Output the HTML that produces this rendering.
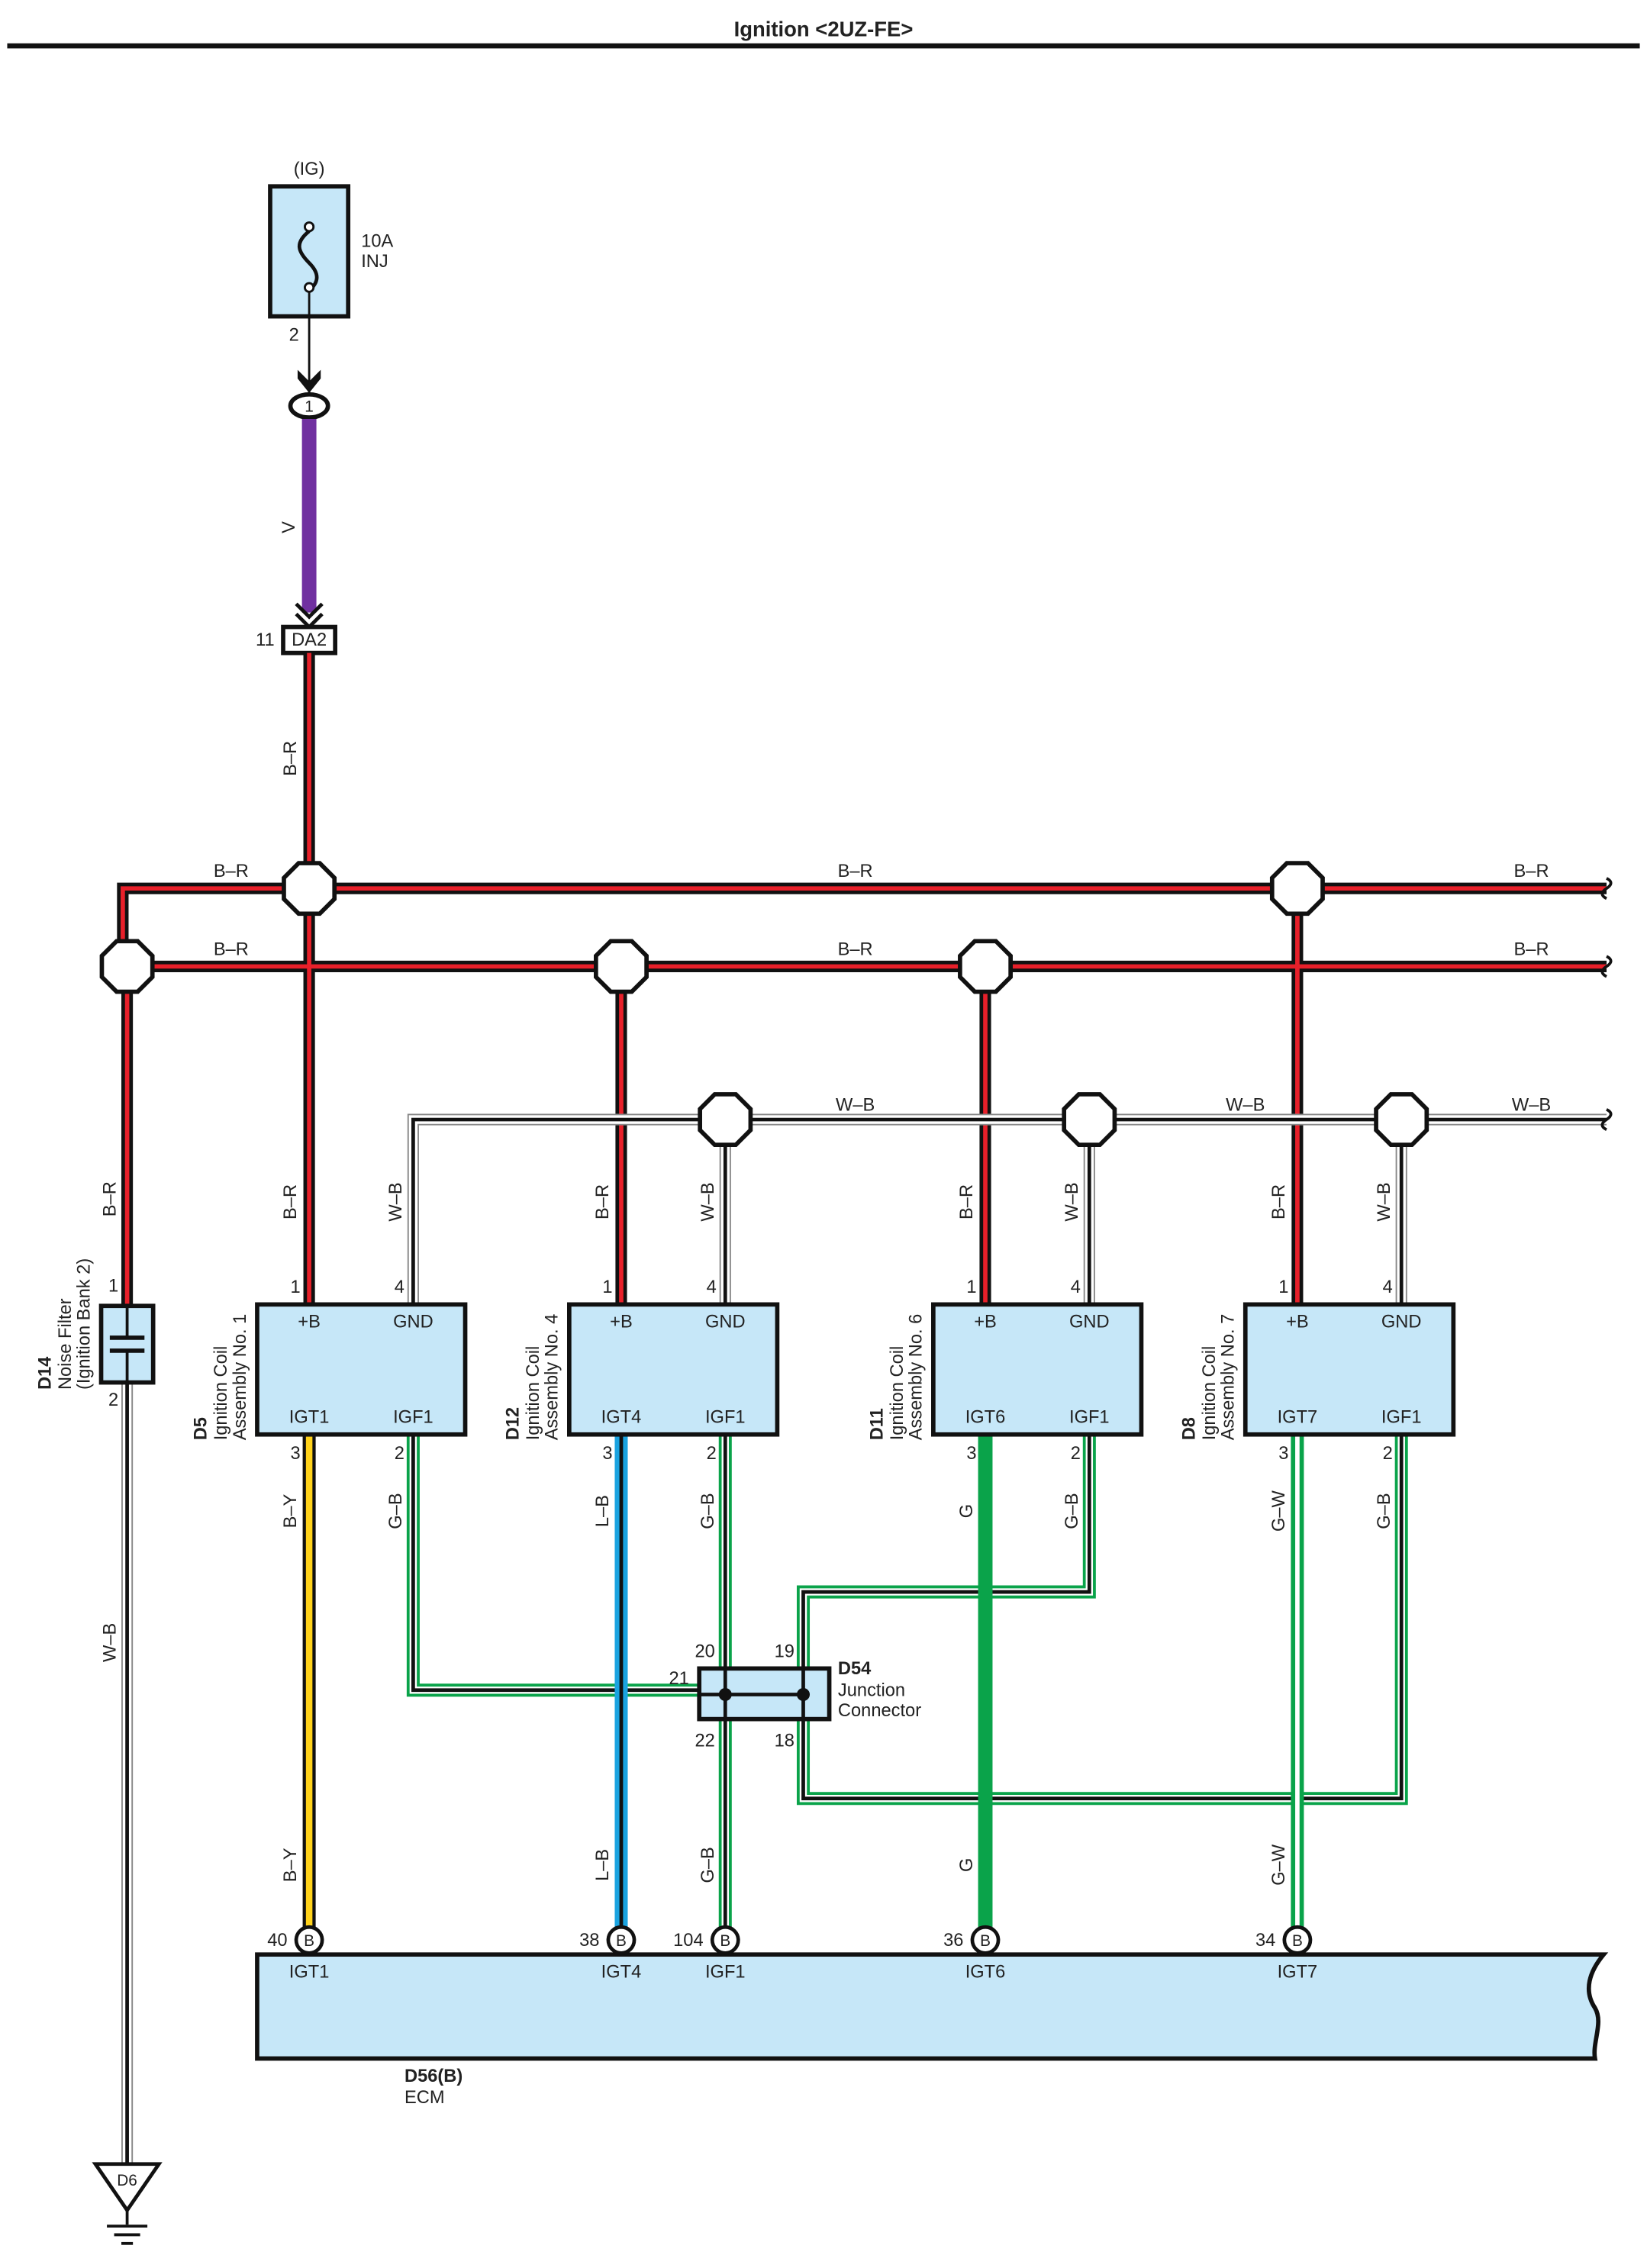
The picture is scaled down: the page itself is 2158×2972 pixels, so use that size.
<!DOCTYPE html>
<html><head><meta charset="utf-8"><style>
html,body{margin:0;padding:0;background:#fff}
svg{display:block}
text{font-family:"Liberation Sans",Arial,sans-serif;font-size:12.5px;fill:#222}
.b{font-weight:bold}
.m{text-anchor:middle}
</style></head><body>
<svg width="2158" height="2972" viewBox="0 0 1140 1570" xmlns="http://www.w3.org/2000/svg">
<defs>
<polygon id="oct" points="17.5,7.3 7.3,17.5 -7.3,17.5 -17.5,7.3 -17.5,-7.3 -7.3,-17.5 7.3,-17.5 17.5,-7.3" fill="#fff" stroke="#111" stroke-width="3"/>
<path id="brk" d="M0,-7 q6,3 0,7 q-6,4 0,7" fill="none" stroke="#111" stroke-width="2"/>
<!-- wires -->
<path id="br1" d="M1112,615 H85 V669"/>
<path id="br2" d="M1112,669 H88 V905"/>
<path id="br3" d="M214,452 V903"/>
<path id="br4" d="M430,669 V903"/>
<path id="br5" d="M682,669 V903"/>
<path id="br6" d="M898,615 V903"/>
<path id="wb1" d="M1112,775 H286 V903"/>
<path id="wb2" d="M502,775 V903"/>
<path id="wb3" d="M754,775 V903"/>
<path id="wb4" d="M970,775 V903"/>
<path id="wb5" d="M88,957 V1498"/>
<path id="gb1" d="M286,993 V1170 H484"/>
<path id="gb2" d="M502,993 V1335"/>
<path id="gb3" d="M754,993 V1102 H556 V1155"/>
<path id="gb4" d="M970,993 V1245 H556 V1190"/>
</defs>

<!-- title -->
<text x="570" y="25" class="b m" style="font-size:14.5px">Ignition &lt;2UZ-FE&gt;</text>
<rect x="5" y="30" width="1130" height="3.5" fill="#111"/>

<!-- fuse -->
<text x="214" y="121" class="m">(IG)</text>
<rect x="187" y="129" width="54" height="90" fill="#c6e7f8" stroke="#111" stroke-width="3"/>
<path d="M214,160 c-10,8 -8,14 0,22 c8,8 6,14 0,19" fill="none" stroke="#111" stroke-width="2.5"/>
<circle cx="214" cy="157" r="3" fill="#fff" stroke="#111" stroke-width="1.5"/>
<circle cx="214" cy="199" r="3" fill="#fff" stroke="#111" stroke-width="1.5"/>
<text x="250" y="171">10A</text><text x="250" y="185">INJ</text>
<line x1="214" y1="202" x2="214" y2="272" stroke="#111" stroke-width="1.5"/>
<text x="200" y="236">2</text>
<path d="M206,256 L214,264 L222,256 L222,262 L214,272 L206,262 Z" fill="#111"/>
<ellipse cx="214" cy="281" rx="13" ry="8" fill="#fff" stroke="#111" stroke-width="3"/>
<text x="214" y="285" class="m" style="font-size:11px">1</text>
<line x1="214" y1="290" x2="214" y2="424" stroke="#7030a0" stroke-width="10"/>
<text transform="translate(204,365) rotate(-90)" class="m">V</text>
<path d="M205,418 L214,427 L223,418 M205,425 L214,434 L223,425" fill="none" stroke="#111" stroke-width="2.5"/>
<rect x="196" y="434" width="36" height="18" fill="#fff" stroke="#111" stroke-width="3"/>
<text x="214" y="447" class="m">DA2</text>
<text x="177" y="447">11</text>

<!-- B-R wires -->
<g fill="none" stroke-linejoin="miter">
<g stroke="#111" stroke-width="8">
<use href="#br1"/><use href="#br2"/><use href="#br3"/><use href="#br4"/><use href="#br5"/><use href="#br6"/>
</g>
<g stroke="#e8202a" stroke-width="3">
<use href="#br1"/><use href="#br2"/><use href="#br3"/><use href="#br4"/><use href="#br5"/><use href="#br6"/>
</g>
<!-- W-B -->
<g stroke="#888" stroke-width="8"><use href="#wb1"/><use href="#wb2"/><use href="#wb3"/><use href="#wb4"/><use href="#wb5"/></g>
<g stroke="#fff" stroke-width="6"><use href="#wb1"/><use href="#wb2"/><use href="#wb3"/><use href="#wb4"/><use href="#wb5"/></g>
<g stroke="#111" stroke-width="2.5"><use href="#wb1"/><use href="#wb2"/><use href="#wb3"/><use href="#wb4"/><use href="#wb5"/></g>
<!-- G-B -->
<g stroke="#0aa34a" stroke-width="9"><use href="#gb1"/><use href="#gb2"/><use href="#gb3"/><use href="#gb4"/></g>
<g stroke="#fff" stroke-width="5"><use href="#gb1"/><use href="#gb2"/><use href="#gb3"/><use href="#gb4"/></g>
<g stroke="#111" stroke-width="2.5"><use href="#gb1"/><use href="#gb2"/><use href="#gb3"/><use href="#gb4"/></g>
</g>
<!-- B-Y -->
<line x1="214" y1="993" x2="214" y2="1335" stroke="#111" stroke-width="9"/>
<line x1="214" y1="993" x2="214" y2="1335" stroke="#ffd21a" stroke-width="4.5"/>
<!-- L-B -->
<line x1="430" y1="993" x2="430" y2="1335" stroke="#1aa3e0" stroke-width="9"/>
<line x1="430" y1="993" x2="430" y2="1335" stroke="#111" stroke-width="2.5"/>
<!-- G -->
<line x1="682" y1="993" x2="682" y2="1335" stroke="#0aa34a" stroke-width="10"/>
<!-- G-W -->
<line x1="898" y1="993" x2="898" y2="1335" stroke="#0aa34a" stroke-width="9"/>
<line x1="898" y1="993" x2="898" y2="1335" stroke="#fff" stroke-width="3"/>

<!-- break marks -->
<use href="#brk" x="1112" y="615"/><use href="#brk" x="1112" y="669"/><use href="#brk" x="1112" y="775"/>

<!-- junctions -->
<use href="#oct" x="214" y="615"/><use href="#oct" x="898" y="615"/>
<use href="#oct" x="88" y="669"/><use href="#oct" x="430" y="669"/><use href="#oct" x="682" y="669"/>
<use href="#oct" x="502" y="775"/><use href="#oct" x="754" y="775"/><use href="#oct" x="970" y="775"/>

<!-- bus labels -->
<text x="160" y="607" class="m">B–R</text><text x="592" y="607" class="m">B–R</text><text x="1060" y="607" class="m">B–R</text>
<text x="160" y="661" class="m">B–R</text><text x="592" y="661" class="m">B–R</text><text x="1060" y="661" class="m">B–R</text>
<text x="592" y="769" class="m">W–B</text><text x="862" y="769" class="m">W–B</text><text x="1060" y="769" class="m">W–B</text>
<text transform="translate(205,525) rotate(-90)" class="m">B–R</text>

<!-- noise filter -->
<rect x="70" y="904" width="36" height="53" fill="#c6e7f8" stroke="#111" stroke-width="3"/>
<line x1="76" y1="926" x2="100" y2="926" stroke="#111" stroke-width="3"/>
<line x1="76" y1="935" x2="100" y2="935" stroke="#111" stroke-width="3"/>
<line x1="88" y1="904" x2="88" y2="926" stroke="#111" stroke-width="2"/>
<line x1="88" y1="935" x2="88" y2="957" stroke="#111" stroke-width="2"/>
<text x="75" y="894">1</text><text x="75" y="973">2</text>
<text transform="translate(80,830) rotate(-90)" class="m">B–R</text>
<text transform="translate(80,1137) rotate(-90)" class="m">W–B</text>
<text transform="translate(35,962) rotate(-90)" class="b">D14</text>
<text transform="translate(49,962) rotate(-90)">Noise Filter</text>
<text transform="translate(62,962) rotate(-90)">(Ignition Bank 2)</text>
<!-- ground -->
<polygon points="66,1498 110,1498 88,1530" fill="#fff" stroke="#111" stroke-width="2.5"/>
<text x="88" y="1513" class="m" style="font-size:11px">D6</text>
<line x1="88" y1="1530" x2="88" y2="1540" stroke="#111" stroke-width="2"/>
<line x1="74" y1="1541" x2="102" y2="1541" stroke="#111" stroke-width="2"/>
<line x1="79" y1="1547" x2="97" y2="1547" stroke="#111" stroke-width="2"/>
<line x1="84" y1="1553" x2="92" y2="1553" stroke="#111" stroke-width="2"/>

<!-- coils -->
<g>
<rect x="178" y="903" width="144" height="90" fill="#c6e7f8" stroke="#111" stroke-width="3"/>
<rect x="394" y="903" width="144" height="90" fill="#c6e7f8" stroke="#111" stroke-width="3"/>
<rect x="646" y="903" width="144" height="90" fill="#c6e7f8" stroke="#111" stroke-width="3"/>
<rect x="862" y="903" width="144" height="90" fill="#c6e7f8" stroke="#111" stroke-width="3"/>
</g>
<g class="m">
<text x="214" y="919" class="m">+B</text><text x="286" y="919" class="m">GND</text><text x="214" y="985" class="m">IGT1</text><text x="286" y="985" class="m">IGF1</text>
<text x="430" y="919" class="m">+B</text><text x="502" y="919" class="m">GND</text><text x="430" y="985" class="m">IGT4</text><text x="502" y="985" class="m">IGF1</text>
<text x="682" y="919" class="m">+B</text><text x="754" y="919" class="m">GND</text><text x="682" y="985" class="m">IGT6</text><text x="754" y="985" class="m">IGF1</text>
<text x="898" y="919" class="m">+B</text><text x="970" y="919" class="m">GND</text><text x="898" y="985" class="m">IGT7</text><text x="970" y="985" class="m">IGF1</text>
</g>
<!-- pin numbers -->
<text x="201" y="895">1</text><text x="273" y="895">4</text><text x="201" y="1010">3</text><text x="273" y="1010">2</text>
<text x="417" y="895">1</text><text x="489" y="895">4</text><text x="417" y="1010">3</text><text x="489" y="1010">2</text>
<text x="669" y="895">1</text><text x="741" y="895">4</text><text x="669" y="1010">3</text><text x="741" y="1010">2</text>
<text x="885" y="895">1</text><text x="957" y="895">4</text><text x="885" y="1010">3</text><text x="957" y="1010">2</text>
<!-- coil side labels -->
<text transform="translate(143,997) rotate(-90)" class="b">D5</text>
<text transform="translate(157,997) rotate(-90)">Ignition Coil</text>
<text transform="translate(170,997) rotate(-90)">Assembly No. 1</text>
<text transform="translate(359,997) rotate(-90)" class="b">D12</text>
<text transform="translate(373,997) rotate(-90)">Ignition Coil</text>
<text transform="translate(386,997) rotate(-90)">Assembly No. 4</text>
<text transform="translate(611,997) rotate(-90)" class="b">D11</text>
<text transform="translate(625,997) rotate(-90)">Ignition Coil</text>
<text transform="translate(638,997) rotate(-90)">Assembly No. 6</text>
<text transform="translate(827,997) rotate(-90)" class="b">D8</text>
<text transform="translate(841,997) rotate(-90)">Ignition Coil</text>
<text transform="translate(854,997) rotate(-90)">Assembly No. 7</text>
<!-- wire labels above coils -->
<text transform="translate(205,832) rotate(-90)" class="m">B–R</text><text transform="translate(278,832) rotate(-90)" class="m">W–B</text>
<text transform="translate(421,832) rotate(-90)" class="m">B–R</text><text transform="translate(494,832) rotate(-90)" class="m">W–B</text>
<text transform="translate(673,832) rotate(-90)" class="m">B–R</text><text transform="translate(746,832) rotate(-90)" class="m">W–B</text>
<text transform="translate(889,832) rotate(-90)" class="m">B–R</text><text transform="translate(962,832) rotate(-90)" class="m">W–B</text>
<!-- wire labels below -->
<text transform="translate(205,1046) rotate(-90)" class="m">B–Y</text><text transform="translate(278,1046) rotate(-90)" class="m">G–B</text>
<text transform="translate(421,1046) rotate(-90)" class="m">L–B</text><text transform="translate(494,1046) rotate(-90)" class="m">G–B</text>
<text transform="translate(673,1046) rotate(-90)" class="m">G</text><text transform="translate(746,1046) rotate(-90)" class="m">G–B</text>
<text transform="translate(889,1046) rotate(-90)" class="m">G–W</text><text transform="translate(962,1046) rotate(-90)" class="m">G–B</text>
<text transform="translate(205,1291) rotate(-90)" class="m">B–Y</text>
<text transform="translate(421,1291) rotate(-90)" class="m">L–B</text>
<text transform="translate(494,1291) rotate(-90)" class="m">G–B</text>
<text transform="translate(673,1291) rotate(-90)" class="m">G</text>
<text transform="translate(889,1291) rotate(-90)" class="m">G–W</text>

<!-- D54 -->
<rect x="484" y="1155" width="90" height="35" fill="#c6e7f8" stroke="#111" stroke-width="3"/>
<line x1="502" y1="1155" x2="502" y2="1190" stroke="#111" stroke-width="2.5"/>
<line x1="556" y1="1155" x2="556" y2="1190" stroke="#111" stroke-width="2.5"/>
<line x1="484" y1="1173" x2="556" y2="1173" stroke="#111" stroke-width="2.5"/>
<circle cx="502" cy="1173" r="4.5" fill="#111"/><circle cx="556" cy="1173" r="4.5" fill="#111"/>
<text x="481" y="1147">20</text><text x="536" y="1147">19</text><text x="463" y="1166">21</text>
<text x="481" y="1209">22</text><text x="536" y="1209">18</text>
<text x="580" y="1159" class="b">D54</text><text x="580" y="1174">Junction</text><text x="580" y="1188">Connector</text>

<!-- ECM -->
<path d="M178,1353 H1110 C1100,1365 1096,1378 1104,1390 C1110,1400 1102,1414 1104,1425 H178 Z" fill="#c6e7f8" stroke="#111" stroke-width="3"/>
<g fill="#fff" stroke="#111" stroke-width="2.5">
<circle cx="214" cy="1343" r="9"/><circle cx="430" cy="1343" r="9"/><circle cx="502" cy="1343" r="9"/><circle cx="682" cy="1343" r="9"/><circle cx="898" cy="1343" r="9"/>
</g>
<g style="font-size:11px">
<text x="214" y="1347" class="m" style="font-size:11px">B</text><text x="430" y="1347" class="m" style="font-size:11px">B</text><text x="502" y="1347" class="m" style="font-size:11px">B</text><text x="682" y="1347" class="m" style="font-size:11px">B</text><text x="898" y="1347" class="m" style="font-size:11px">B</text>
</g>
<text x="185" y="1347">40</text><text x="401" y="1347">38</text><text x="466" y="1347">104</text><text x="653" y="1347">36</text><text x="869" y="1347">34</text>
<text x="214" y="1369" class="m">IGT1</text><text x="430" y="1369" class="m">IGT4</text><text x="502" y="1369" class="m">IGF1</text><text x="682" y="1369" class="m">IGT6</text><text x="898" y="1369" class="m">IGT7</text>
<text x="280" y="1441" class="b">D56(B)</text><text x="280" y="1456">ECM</text>
</svg>
</body></html>
